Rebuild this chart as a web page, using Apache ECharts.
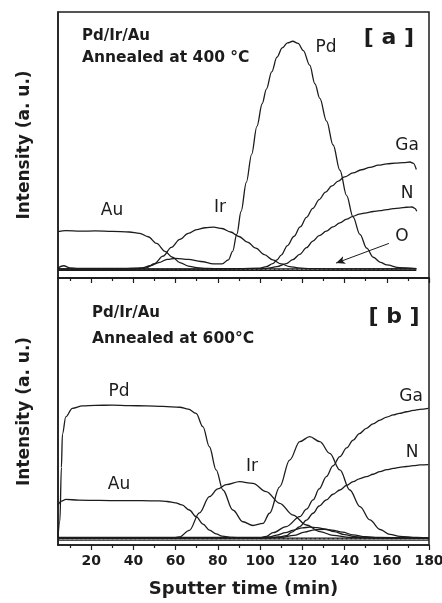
<!DOCTYPE html>
<html>
<head>
<meta charset="UTF-8">
<title>Pd/Ir/Au depth profile</title>
<script src="https://cdn.jsdelivr.net/npm/echarts@6.0.0/dist/echarts.min.js"></script>
<style>
  html, body { margin: 0; padding: 0; background: #fff; }
  #chart { width: 442px; height: 603px; }
</style>
</head>
<body>
<div id="chart"></div>
<script>
// ---- data: [sputter time (min), intensity (a.u.)] ----
// panel [a] 400 C
const auA = [[4.3,17.4],[8,17.8],[15,17.6],[22,17.7],[30,17.5],[38,17.3],[43,16.8],[47,15.5],[51,13],[55,10],[58.5,7.8],[62,5.8],[66,4.5],[70,3.9],[75,3.6],[82,3.5],[95,3.5],[120,3.4],[150,3.4],[174,3.4]];
const irA = [[4.3,3.4],[20,3.3],[40,3.4],[46,3.8],[50,5.4],[54,8.2],[58,11.5],[62,14.5],[66,16.8],[70,18.2],[74,18.9],[78,19.1],[82,18.6],[86,17.3],[90,15.6],[94,13.5],[98,11.2],[102,8.8],[106,6.8],[110,5.3],[114,4.3],[118,3.8],[124,3.5],[140,3.4],[174,3.4]];
const pdA = [[4.3,3.8],[7,4.6],[10,3.8],[14,3.6],[25,3.6],[35,3.6],[44,3.8],[48,4.6],[52,5.8],[56,7],[60,7.4],[66,7],[72,6.2],[78,5.3],[82,5.3],[85,6.8],[87,10],[89,16.5],[91,25],[93.5,36],[96,46.5],[98.5,57],[101,65.5],[103,71],[105.5,77.5],[108,83],[110.5,86.5],[113,88.4],[115.5,89],[118,88.2],[120.5,85.5],[123.5,80],[126,73],[128.3,67.5],[131.5,59],[134.6,50],[137.8,40.5],[141,31],[144,23],[147.3,16.4],[150.5,11.2],[153.6,7.8],[157,5.9],[160,4.9],[166,3.9],[174,3.5]];
const gaA = [[4.3,3.4],[50,3.4],[90,3.5],[100,3.7],[103,4.3],[106,5.4],[108,6.8],[110,8.6],[113,12.2],[116,15.6],[119,19.2],[122,22.8],[125,26.2],[128,29.5],[131,32.3],[134,34.6],[137,36.4],[140,38],[144,39.5],[148,40.7],[152,41.6],[156,42.4],[160,42.9],[164,43.2],[168,43.4],[171,43.6],[172.5,43.2],[174,40.8]];
const nA = [[4.3,3.3],[60,3.3],[100,3.4],[104,3.7],[108,4.3],[112.4,5.4],[115.5,6.9],[118.8,8.9],[122,11.4],[125,13.9],[128,15.9],[131.4,17.6],[134.5,19.2],[137.8,20.7],[141,22.1],[144,23.2],[147,24],[150.4,24.5],[153.5,25],[156.8,25.3],[160,25.7],[163,26.1],[166,26.3],[169.4,26.6],[172,26.7],[173.3,26.2],[174.2,25.1]];
const oA = [[4.3,3.3],[60,3.2],[120,3.3],[174,3.4]];
const baseA = [[4.3,2.9],[174,2.9]];
const arrowA = [[161,13],[136,5.6]];

// panel [b] 600 C
const pdB = [[4.3,3],[5.2,9],[5.9,29],[6.4,41.5],[8,48],[11.1,51.2],[15.9,52.1],[22,52.3],[30,52.4],[38,52.2],[46,52.1],[54,51.9],[62,51.6],[66,50.9],[69.7,49.3],[72.9,44.3],[76,36.8],[79.2,28.1],[82.4,20.6],[87.1,13.1],[91.9,8.7],[96.6,7.3],[101.4,8.1],[104.5,11.9],[109.3,21.8],[114,31.8],[118.8,38.7],[123.5,40.6],[128.3,38.7],[133,34.3],[137.8,28.1],[142.5,20.6],[147.3,14.4],[152,9.4],[156.8,5.8],[161.5,4],[166.2,3.2],[174.2,2.8],[179.7,2.7]];
const auB = [[4.3,15],[6,16.4],[8,17.1],[14,16.8],[24,16.7],[34,16.6],[44,16.6],[52,16.5],[56,16.3],[60,15.8],[63,15],[66.5,13.1],[69.7,10.6],[73,7.8],[76,5.6],[79.2,4.2],[82,3.3],[87.1,2.8],[95,2.6],[120,2.6],[180,2.6]];
const irB = [[4.3,2.6],[40,2.6],[58,2.6],[61.8,3],[66.5,5.5],[71.3,12],[76,18.1],[80,21],[84,22.6],[90.3,23.7],[96.6,23.1],[102.9,20],[109.3,15.6],[115.6,11.2],[121.9,7.5],[128.3,5],[134.6,3.6],[142.5,2.8],[160,2.6],[180,2.6]];
const gaB = [[4.3,2.6],[60,2.6],[100,2.7],[103,3.2],[106.1,4.6],[112.4,6.9],[118.8,10.6],[122,13.4],[125.1,16.9],[128,21],[131.4,25.6],[134.5,29.6],[137.8,33.1],[141,36.4],[144.1,39.3],[147,41.7],[150.4,43.7],[153.5,45.4],[156.8,46.8],[160,47.9],[163.1,48.7],[166,49.3],[169.4,49.9],[172.5,50.4],[175.7,50.8],[179.7,51.2]];
const nB = [[4.3,2.6],[100,2.6],[105,2.7],[109,3],[112.4,3.5],[115,4.8],[118.8,6.9],[122,9.3],[125.1,11.9],[128,14.6],[131.4,16.9],[134.5,19],[137.8,20.6],[141,22.3],[144.1,23.7],[147,24.8],[150.4,25.6],[153.5,26.5],[156.8,27.5],[160,28.2],[163.1,28.7],[166,29.1],[169.4,29.4],[172.5,29.7],[175.7,30],[179.7,30.1]];
const minorB1 = [[4.3,2.8],[100,2.8],[104,3],[108,3.7],[112,4.6],[116,5.6],[120,6.4],[123.5,6.7],[127,6.5],[131,5.9],[135,5],[140,3.9],[145,3.1],[150,2.8],[160,2.7],[180,2.7]];
const minorB2 = [[4.3,2.7],[100,2.7],[110,2.9],[116,3.6],[121,4.8],[126,5.7],[130,5.9],[134,5.6],[139,4.8],[144,3.8],[150,3.1],[156,2.8],[170,2.7],[180,2.6]];
const oB = [[4.3,2.4],[60,2.4],[120,2.4],[180,2.4]];
const baseB = [[4.3,1.8],[180,1.8]];

// axis ticks / labels
const majorTicks = [20, 40, 60, 80, 100, 120, 140, 160, 180];
const minorTicks = [10, 30, 50, 70, 90, 110, 130, 150, 170];

const INK = '#1c1c1c';
const FONT = '"DejaVu Sans", "Liberation Sans", Arial, sans-serif';

function curve(data, grid, dashed) {
  return {
    type: 'line', data: data, xAxisIndex: grid * 2, yAxisIndex: grid,
    showSymbol: false, symbol: 'none', smooth: 0.35, smoothMonotone: 'x',
    lineStyle: { color: INK, width: dashed ? 1.2 : 1.3, type: dashed ? [1.5, 3] : 'solid' },
    silent: true
  };
}

function xAxes(grid, withLabels) {
  return [{
    type: 'value', gridIndex: grid, position: 'bottom', min: 4.3, max: 180,
    axisLine: { show: true, lineStyle: { color: INK, width: 1.5 } },
    axisTick: { show: true, customValues: majorTicks, length: 5, inside: false, lineStyle: { color: INK, width: 1.2 } },
    axisLabel: withLabels ? { show: true, customValues: majorTicks, color: INK, fontSize: 14, fontWeight: 'bold', fontFamily: FONT, margin: 9 } : { show: false },
    splitLine: { show: false },
    name: withLabels ? 'Sputter time (min)' : '',
    nameLocation: 'middle', nameGap: 35,
    nameTextStyle: { color: INK, fontSize: 18, fontWeight: 'bold', fontFamily: FONT }
  }, {
    type: 'value', gridIndex: grid, position: 'bottom', min: 4.3, max: 180,
    axisLine: { show: false },
    axisTick: { show: true, customValues: minorTicks, length: 3, inside: false, lineStyle: { color: INK, width: 1.2 } },
    axisLabel: { show: false }, splitLine: { show: false }
  }];
}

function yAxis(grid) {
  return {
    type: 'value', gridIndex: grid, min: 0, max: 100,
    axisLine: { show: true, lineStyle: { color: INK, width: 1.5 } },
    axisTick: { show: false }, axisLabel: { show: false }, splitLine: { show: false },
    name: 'Intensity (a. u.)', nameLocation: 'middle', nameGap: 25,
    nameTextStyle: { color: INK, fontSize: 17, fontWeight: 'bold', fontFamily: FONT }
  };
}

function txt(text, x, y, size, bold, align) {
  return {
    type: 'text', x: x, y: y, silent: true,
    style: { text: text, font: (bold ? 'bold ' : '') + size + 'px ' + FONT, fill: INK, align: align || 'center', verticalAlign: 'middle' }
  };
}

const chart = echarts.init(document.getElementById('chart'));
chart.setOption({
  animation: false,
  backgroundColor: '#fff',
  grid: [
    { left: 58, top: 12, width: 371, height: 266, outerBoundsMode: 'none', containLabel: false, show: true, borderColor: INK, borderWidth: 1.5, backgroundColor: 'transparent' },
    { left: 58, top: 278, width: 371, height: 267, outerBoundsMode: 'none', containLabel: false, show: true, borderColor: INK, borderWidth: 1.5, backgroundColor: 'transparent' }
  ],
  xAxis: xAxes(0, false).concat(xAxes(1, true)),
  yAxis: [yAxis(0), yAxis(1)],
  series: [
    curve(auA, 0), curve(irA, 0), curve(pdA, 0), curve(gaA, 0), curve(nA, 0), curve(oA, 0, true), curve(baseA, 0),
    {
      type: 'line', data: [], xAxisIndex: 0, yAxisIndex: 0, silent: true,
      markLine: {
        silent: true, symbol: ['none', 'arrow'], symbolSize: [6, 9],
        label: { show: false },
        lineStyle: { color: INK, width: 1, type: 'solid' },
        data: [[{ coord: arrowA[0] }, { coord: arrowA[1] }]]
      }
    },
    curve(pdB, 1), curve(auB, 1), curve(irB, 1), curve(gaB, 1), curve(nB, 1),
    curve(minorB1, 1), curve(minorB2, 1), curve(oB, 1, true), curve(baseB, 1)
  ],
  graphic: [
    txt('Pd/Ir/Au', 82, 36, 15, true, 'left'),
    txt('Annealed at 400 °C', 82, 58, 15.5, true, 'left'),
    txt('[ a ]', 389, 38, 22, true),
    txt('Pd', 326, 48, 17),
    txt('Au', 112, 211, 17),
    txt('Ir', 220, 208, 17),
    txt('Ga', 407, 146, 17),
    txt('N', 407, 194, 17),
    txt('O', 402, 237, 17),

    txt('Pd/Ir/Au', 92, 313, 15, true, 'left'),
    txt('Annealed at 600°C', 92, 339, 15.5, true, 'left'),
    txt('[ b ]', 394, 317, 22, true),
    txt('Pd', 119, 392, 17),
    txt('Au', 119, 485, 17),
    txt('Ir', 252, 467, 17),
    txt('Ga', 411, 397, 17),
    txt('N', 412, 453, 17)
  ]
});
</script>
</body>
</html>
